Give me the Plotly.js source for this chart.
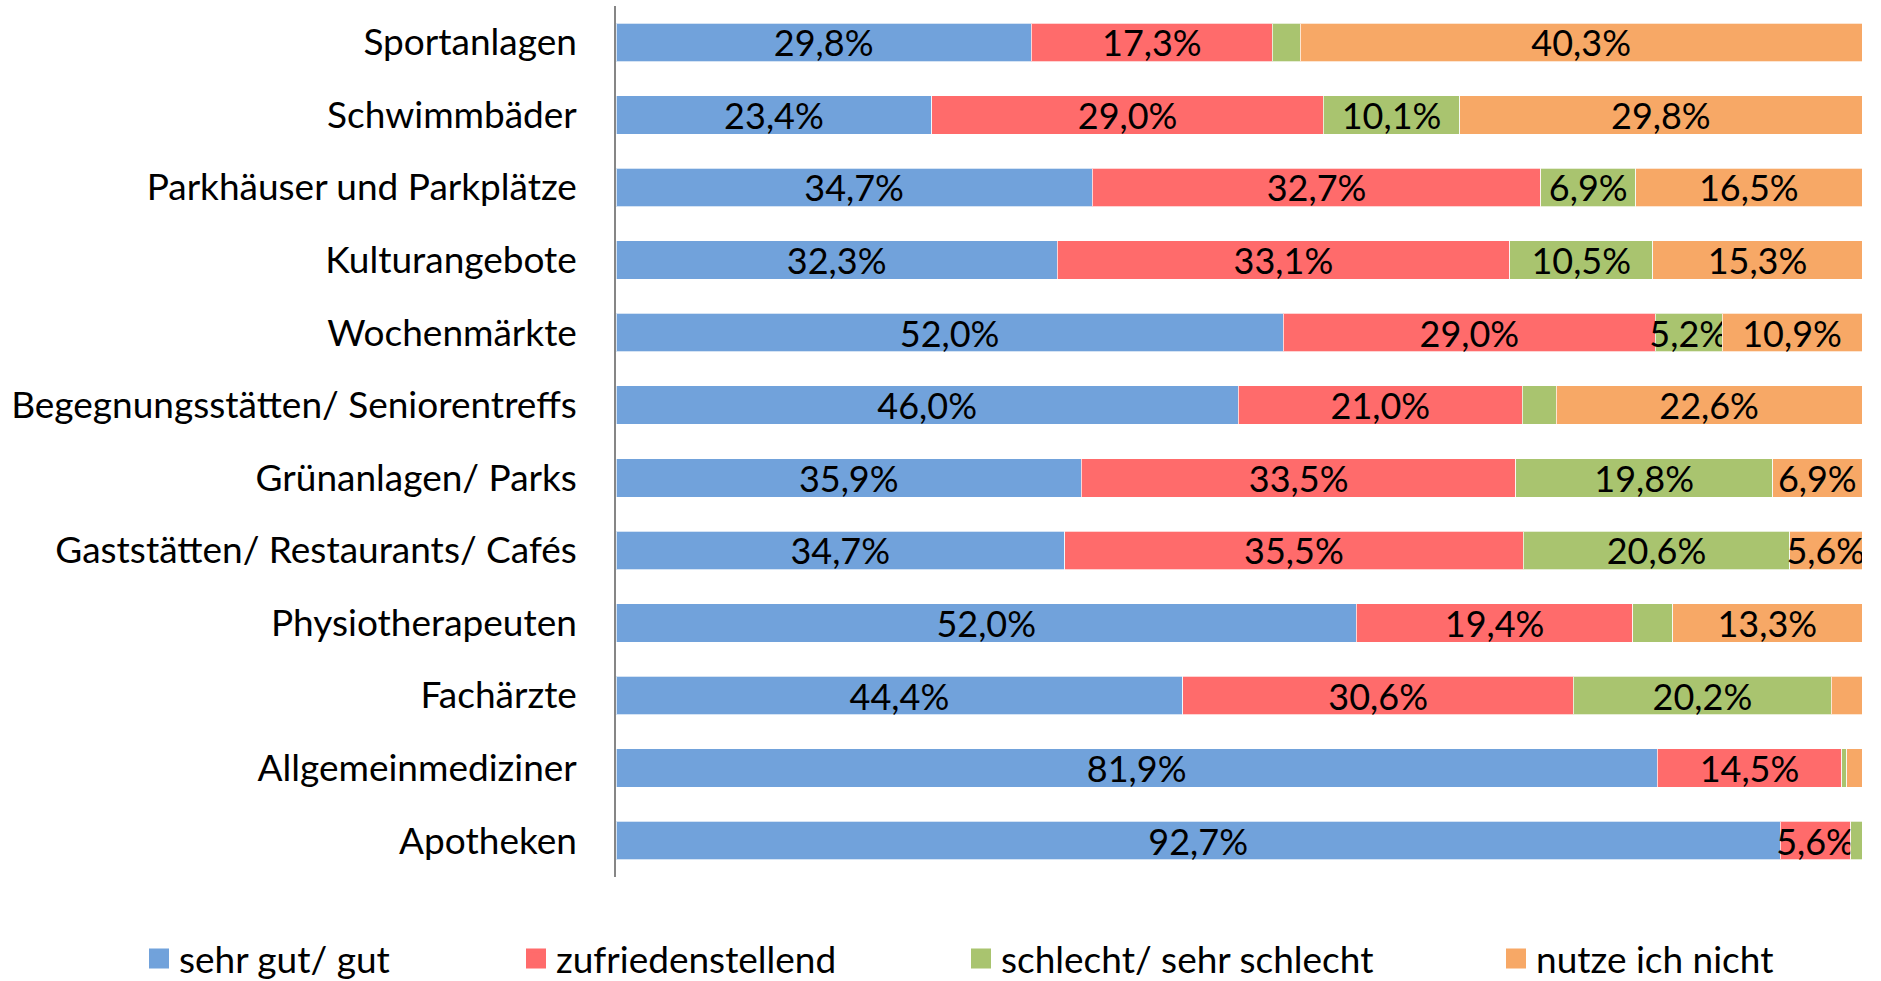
<!DOCTYPE html>
<html>
<head>
<meta charset="utf-8">
<script src="https://cdn.plot.ly/plotly-3.0.1.min.js"></script>
<style>
  html, body { margin: 0; padding: 0; background: #ffffff; }
  #chart { width: 1881px; height: 981px; }
</style>
</head>
<body>
<div id="chart"></div>
<script>
// Categories (top to bottom)
const categories = [
  'Sportanlagen',
  'Schwimmbäder',
  'Parkhäuser und Parkplätze',
  'Kulturangebote',
  'Wochenmärkte',
  'Begegnungsstätten/ Seniorentreffs',
  'Grünanlagen/ Parks',
  'Gaststätten/ Restaurants/ Cafés',
  'Physiotherapeuten',
  'Fachärzte',
  'Allgemeinmediziner',
  'Apotheken'
];

// Series values (percent of respondents)
const sehrGutGut = [29.8, 23.4, 34.7, 32.3, 52.0, 46.0, 35.9, 34.7, 52.0, 44.4, 81.9, 92.7];
const zufriedenstellend = [17.3, 29.0, 32.7, 33.1, 29.0, 21.0, 33.5, 35.5, 19.4, 30.6, 14.5, 5.6];
const schlechtSehrSchlecht = [2.0, 10.1, 6.9, 10.5, 5.2, 2.5, 19.8, 20.6, 2.8, 20.2, 0.4, 0.9];
const nutzeIchNicht = [40.3, 29.8, 16.5, 15.3, 10.9, 22.6, 6.9, 5.6, 13.3, 2.4, 1.2, 0.0];

const seriesNames = ['sehr gut/ gut', 'zufriedenstellend', 'schlecht/ sehr schlecht', 'nutze ich nicht'];
const seriesValues = [sehrGutGut, zufriedenstellend, schlechtSehrSchlecht, nutzeIchNicht];
const seriesColors = ['#71A2DB', '#FF6B6B', '#A9C46F', '#F7A866'];

const FONT = 'Lato, "Open Sans", sans-serif';
const AXIS_SIZE = 37;
const DATA_SIZE = 36;

function fmt(v) {
  return v >= 3 ? v.toFixed(1).replace('.', ',') + '%' : '';
}

const traces = [];
seriesValues.forEach((vals, i) => {
  traces.push({
    type: 'bar',
    orientation: 'h',
    name: seriesNames[i],
    y: categories,
    x: vals,
    customdata: vals.map(fmt),
    texttemplate: '%{customdata}',
    textposition: 'inside',
    insidetextanchor: 'middle',
    textangle: 0,
    constraintext: 'none',
    textfont: { family: FONT, size: DATA_SIZE, color: '#000000' },
    marker: { color: seriesColors[i], line: { color: 'rgba(255,255,255,0.7)', width: 1 } },
    showlegend: false,
    hovertemplate: '%{y}: ' + '%{x:.1f}%<extra>' + seriesNames[i] + '</extra>'
  });
});

// Legend-only marker traces, one legend each so the entries sit where the original has them
const legendIds = ['legend', 'legend2', 'legend3', 'legend4'];
seriesNames.forEach((n, i) => {
  traces.push({
    type: 'scatter',
    mode: 'markers',
    name: n,
    x: [null],
    y: [null],
    marker: { symbol: 'square', size: 16, color: seriesColors[i], line: { color: seriesColors[i], width: 4 } },
    showlegend: true,
    legend: legendIds[i],
    hoverinfo: 'skip'
  });
});

const legendX = [139 / 1881, 516 / 1881, 961 / 1881, 1496 / 1881];
const legendBase = {
  orientation: 'h',
  xref: 'container',
  yref: 'container',
  xanchor: 'left',
  yanchor: 'middle',
  y: 1 - 959 / 981,
  font: { family: FONT, size: AXIS_SIZE, color: '#000000' },
  bgcolor: 'rgba(0,0,0,0)',
  borderwidth: 0
};

const layout = {
  width: 1881,
  height: 981,
  margin: { l: 616, r: 19, t: 6, b: 104 },
  paper_bgcolor: '#ffffff',
  plot_bgcolor: '#ffffff',
  font: { family: FONT, size: AXIS_SIZE, color: '#000000' },
  barmode: 'stack',
  barnorm: 'percent',
  bargap: 0.47,
  xaxis: {
    range: [0, 100],
    visible: false,
    showgrid: false,
    zeroline: false,
    fixedrange: true
  },
  yaxis: {
    type: 'category',
    categoryorder: 'array',
    categoryarray: categories,
    autorange: 'reversed',
    showline: true,
    linecolor: '#868686',
    linewidth: 1.5,
    ticks: '',
    ticklabelstandoff: 30,
    showgrid: false,
    zeroline: false,
    automargin: false,
    tickfont: { family: FONT, size: AXIS_SIZE, color: '#000000' },
    fixedrange: true
  },
  legend: Object.assign({}, legendBase, { x: legendX[0] }),
  legend2: Object.assign({}, legendBase, { x: legendX[1] }),
  legend3: Object.assign({}, legendBase, { x: legendX[2] }),
  legend4: Object.assign({}, legendBase, { x: legendX[3] }),
  showlegend: true
};

Plotly.newPlot('chart', traces, layout, { displayModeBar: false });
</script>
</body>
</html>
